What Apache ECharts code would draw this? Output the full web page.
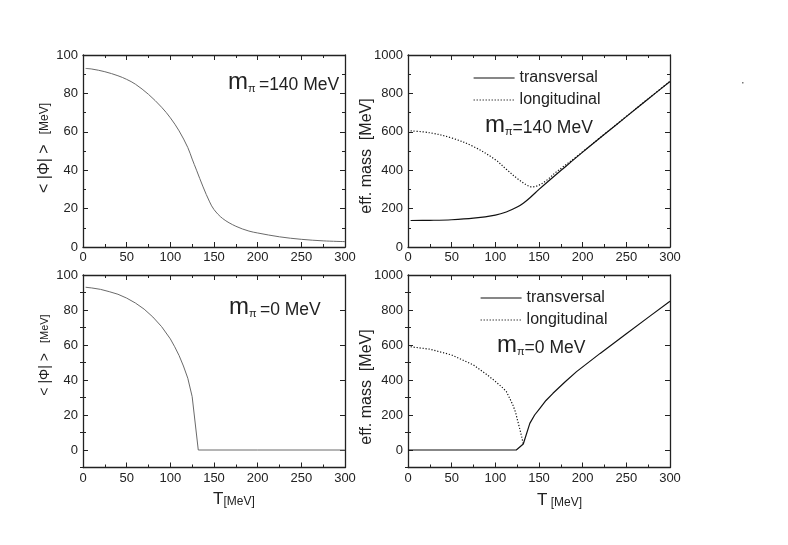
<!DOCTYPE html>
<html>
<head>
<meta charset="utf-8">
<script src="https://cdn.jsdelivr.net/npm/echarts@6/dist/echarts.min.js"></script>
<style>
  html, body { margin: 0; padding: 0; background: #fff; }
  #main { width: 788px; height: 545px; }
</style>
</head>
<body>
<div id="main"></div>
<script>
// condensate <|Phi|>, m_pi = 140 MeV
var T_PHI_140 = [3, 10, 25, 40, 50, 60, 75, 90, 100, 110, 120, 125, 130, 137.5, 145, 150, 160, 175, 190, 200, 225, 250, 275, 300];
var PHI_140 = [93.0, 92.7, 91.3, 89.2, 87.3, 84.8, 79.5, 72.8, 67.3, 60.5, 51.8, 45.8, 40, 31.3, 23.5, 19.5, 14.8, 10.8, 8.3, 7.3, 5.3, 4.0, 3.2, 2.8];

// condensate <|Phi|>, m_pi = 0
var T_PHI_0 = [3, 10, 20, 30, 40, 50, 60, 70, 80, 90, 100, 105, 110, 115, 120, 125, 132, 200, 300];
var PHI_0 = [93, 92.6, 91.8, 90.5, 89, 86.8, 84, 80.5, 76, 70.5, 63.5, 59, 54, 48, 41, 30.5, 0, 0, 0];

// effective masses, m_pi = 140 MeV
var T_TRANS_140 = [3, 25, 50, 75, 100, 112.5, 125, 132, 140, 150, 160, 176, 200, 225, 250, 275, 300];
var TRANS_140 = [138, 139, 142, 150, 166, 182, 208, 228, 258, 300, 340, 402, 494, 587, 679, 771, 862];
var T_LONG_140 = [3, 25, 50, 75, 100, 112.5, 125, 135, 142, 150, 160, 168, 176, 190, 200, 225, 250, 275, 300];
var LONG_140 = [605, 595, 568, 523, 455, 405, 357, 325, 313, 322, 352, 385, 412, 460, 496, 588, 680, 772, 863];

// effective masses, m_pi = 0
var T_TRANS_0 = [0, 124, 132, 139.5, 145, 151, 158, 166, 180, 193, 220, 250, 277, 300];
var TRANS_0 = [0, 0, 34, 152, 200, 238, 283, 324, 390, 448, 552, 664, 765, 850];
var T_LONG_0 = [3, 25, 50, 75, 90, 100, 107, 112.5, 117, 120, 123, 125, 128, 130, 132];
var LONG_0 = [590, 576, 543, 486, 432, 392, 362, 335, 290, 258, 218, 178, 120, 80, 34];

var T_TICKS = 50;
var PHI_MAJOR_0 = [0, 20, 40, 60, 80, 100];
var PHI_MINOR_0 = [-10, 10, 30, 50, 70, 90];
var MASS_MAJOR_0 = [0, 200, 400, 600, 800, 1000];
var MASS_MINOR_0 = [-100, 100, 300, 500, 700, 900];

var FONT = 'Liberation Sans, Arial, sans-serif';
var INK = '#222';

function pairs(xs, ys) {
    return xs.map(function (x, i) { return [x, ys[i]]; });
}

var axisLine = {show: true, onZero: false, lineStyle: {color: INK, width: 1.3}};
var tickStyle = {color: INK, width: 1};
var labelStyle = {color: INK, fontSize: 13, fontFamily: FONT, formatter: function (v) { return String(v); }};

function xAxes(gi) {
    var base = {
        type: 'value', gridIndex: gi, min: 0, max: 300, interval: T_TICKS,
        axisLine: axisLine,
        axisTick: {show: true, inside: true, length: 5, lineStyle: tickStyle},
        minorTick: {show: true, splitNumber: 2, length: 3, lineStyle: tickStyle},
        splitLine: {show: false}
    };
    return [
        Object.assign({}, base, {position: 'bottom', axisLabel: Object.assign({margin: 4}, labelStyle)}),
        Object.assign({}, base, {position: 'top', axisLabel: {show: false}})
    ];
}

function yAxesPlain(gi, max, interval) {
    var base = {
        type: 'value', gridIndex: gi, min: 0, max: max, interval: interval,
        axisLine: axisLine,
        axisTick: {show: true, inside: true, length: 5, lineStyle: tickStyle},
        minorTick: {show: true, splitNumber: 2, length: 3, lineStyle: tickStyle},
        splitLine: {show: false}
    };
    return [
        Object.assign({}, base, {position: 'left', axisLabel: Object.assign({margin: 5}, labelStyle)}),
        Object.assign({}, base, {position: 'right', axisLabel: {show: false}})
    ];
}

function yAxesShifted(gi, min, max, step, major, minor) {
    var list = [];
    ['left', 'right'].forEach(function (pos) {
        list.push({
            type: 'value', gridIndex: gi, min: min, max: max, interval: step, position: pos,
            axisLine: axisLine,
            axisTick: {show: true, inside: true, length: 5, lineStyle: tickStyle, customValues: major},
            axisLabel: pos === 'left' ? Object.assign({margin: 5, customValues: major}, labelStyle) : {show: false},
            splitLine: {show: false}
        });
        list.push({
            type: 'value', gridIndex: gi, min: min, max: max, interval: step, position: pos,
            axisLine: {show: false},
            axisTick: {show: true, inside: true, length: 3, lineStyle: tickStyle, customValues: minor},
            axisLabel: {show: false},
            splitLine: {show: false}
        });
    });
    return list;
}

var xAxis = [].concat(xAxes(0), xAxes(1), xAxes(2), xAxes(3));
// y indices: 0,1 grid0; 2,3 grid1; 4..7 grid2; 8..11 grid3
var yAxis = [].concat(
    yAxesPlain(0, 100, 20),
    yAxesPlain(1, 1000, 200),
    yAxesShifted(2, -10, 100, 10, PHI_MAJOR_0, PHI_MINOR_0),
    yAxesShifted(3, -100, 1000, 100, MASS_MAJOR_0, MASS_MINOR_0)
);

var grayLine = {color: '#6a6a6a', width: 1};
var solidLine = {color: '#111', width: 1.2, type: 'solid'};
var dotLine = {color: '#111', width: 1.2, type: [1.2, 1.8]};

function line(name, data, xi, yi, style, smooth) {
    return {
        name: name, type: 'line', data: data, xAxisIndex: xi, yAxisIndex: yi,
        symbol: 'none', lineStyle: style, itemStyle: {color: style.color},
        smooth: smooth ? 0.35 : false,
        silent: true, animation: false, z: 3
    };
}

function mLabel(x, y, rest, gap) {
    return {
        type: 'text', x: x, y: y,
        style: {
            text: '{m|m}{s|π}' + (gap ? ' ' : '') + '{n|' + rest + '}',
            verticalAlign: 'middle', fill: INK,
            rich: {
                m: {fontSize: 24, lineHeight: 24, fontFamily: FONT, fill: INK, verticalAlign: 'bottom'},
                s: {fontSize: 11, lineHeight: 11, fontFamily: FONT, fill: INK, verticalAlign: 'bottom'},
                n: {fontSize: 17.5, lineHeight: 18, fontFamily: FONT, fill: INK, verticalAlign: 'bottom'}
            }
        }
    };
}

function phiName(x, y, big, small) {
    return {
        type: 'text', x: x, y: y, rotation: Math.PI / 2,
        style: {
            text: '{a|< |Φ| >}   {b|[MeV]}', align: 'center', verticalAlign: 'middle',
            rich: {
                a: {fontSize: big, fontFamily: FONT, fill: INK},
                b: {fontSize: small, fontFamily: FONT, fill: INK}
            }
        }
    };
}

function massName(x, y) {
    return {
        type: 'text', x: x, y: y, rotation: Math.PI / 2,
        style: {text: 'eff. mass  [MeV]', align: 'center', verticalAlign: 'middle',
                fontSize: 16, fontFamily: FONT, fill: INK}
    };
}

function tName(x, y, gap) {
    return {
        type: 'text', x: x, y: y,
        style: {
            text: '{t|T}' + (gap ? ' ' : '') + '{u|[MeV]}', verticalAlign: 'middle',
            rich: {
                t: {fontSize: 17, lineHeight: 17, fontFamily: FONT, fill: INK, verticalAlign: 'bottom'},
                u: {fontSize: 12, lineHeight: 14, fontFamily: FONT, fill: INK, verticalAlign: 'bottom'}
            }
        }
    };
}

var legendBase = {
    orient: 'vertical', itemWidth: 41, itemHeight: 14, itemGap: 6, padding: 0,
    selectedMode: false, data: ['transversal', 'longitudinal'],
    itemStyle: {opacity: 0},
    lineStyle: {width: 1.2},
    textStyle: {fontSize: 16, fontFamily: FONT, color: INK}
};

var chart = echarts.init(document.getElementById('main'), null, {renderer: 'canvas'});
chart.setOption({
    backgroundColor: '#fff',
    animation: false,
    grid: [
        {left: 83, top: 55, width: 262, height: 192},
        {left: 408, top: 55, width: 262, height: 192},
        {left: 83, top: 275, width: 262, height: 192.5},
        {left: 408, top: 275, width: 262, height: 192.5}
    ],
    xAxis: xAxis,
    yAxis: yAxis,
    legend: [
        Object.assign({left: 473, top: 70}, legendBase),
        Object.assign({left: 480, top: 290}, legendBase)
    ],
    series: [
        line('phi140', pairs(T_PHI_140, PHI_140), 0, 0, grayLine, true),
        line('transversal', pairs(T_TRANS_140, TRANS_140), 2, 2, solidLine, true),
        line('longitudinal', pairs(T_LONG_140, LONG_140), 2, 2, dotLine, true),
        line('phi0', pairs(T_PHI_0, PHI_0), 4, 4, grayLine, false),
        line('transversal', pairs(T_TRANS_0, TRANS_0), 6, 8, solidLine, false),
        line('longitudinal', pairs(T_LONG_0, LONG_0), 6, 8, dotLine, false)
    ],
    graphic: [
        mLabel(228, 82, '=140 MeV', true),
        mLabel(485, 125, '=140 MeV', false),
        mLabel(229, 307, '=0 MeV', true),
        mLabel(497, 345, '=0 MeV', false),
        phiName(45, 148, 16, 12),
        phiName(45, 355, 14, 11),
        massName(367, 156),
        massName(367, 387),
        tName(213, 499, false),
        tName(537, 500, true),
        {type: 'rect', shape: {x: 742, y: 82, width: 1.5, height: 1.5}, style: {fill: '#777'}}
    ]
});
</script>
</body>
</html>
